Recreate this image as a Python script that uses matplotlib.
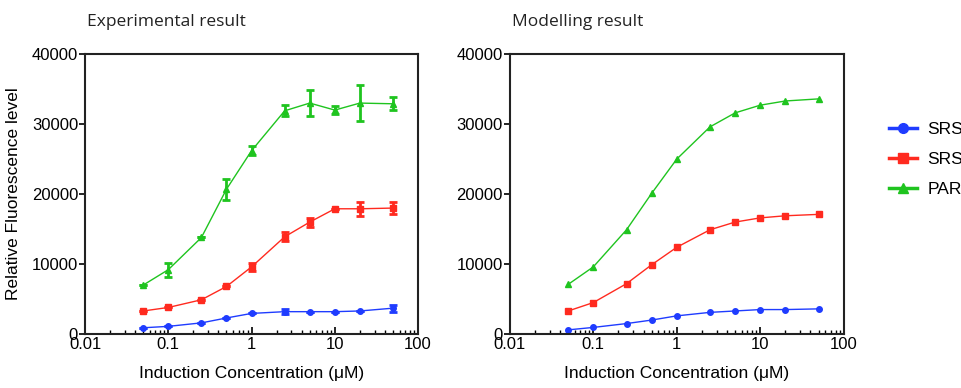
import numpy as np
import matplotlib
matplotlib.use('Agg')
import matplotlib.pyplot as plt
from matplotlib.ticker import LogLocator, NullFormatter, FixedLocator

# induction concentrations (uM)
conc = [0.05, 0.1, 0.25, 0.5, 1, 2.5, 5, 10, 20, 50]

# experimental result
exp_blue = [900, 1100, 1600, 2300, 2950, 3200, 3200, 3200, 3300, 3700]
exp_blue_err = [0, 0, 0, 0, 0, 400, 0, 0, 0, 500]
exp_red = [3300, 3800, 4900, 6800, 9600, 13900, 16000, 17900, 17900, 18000]
exp_red_err = [0, 0, 0, 0, 550, 650, 650, 0, 1000, 800]
exp_green = [7000, 9200, 13800, 20700, 26200, 31900, 33000, 32000, 33000, 32900]
exp_green_err = [0, 1000, 0, 1500, 650, 800, 1800, 600, 2600, 900]

# modelling result
mod_blue = [600, 950, 1500, 2000, 2600, 3100, 3300, 3500, 3500, 3600]
mod_red = [3300, 4500, 7200, 9900, 12400, 14900, 16000, 16600, 16900, 17100]
mod_green = [7100, 9600, 14900, 20100, 25000, 29600, 31600, 32700, 33300, 33600]

labels = ['SRS', 'SRS', 'PAR']
colors = ['#1f3cff', '#ff2a1f', '#1fc41f']
markers = ['o', 's', '^']

plt.rcParams['font.family'] = ['Liberation Sans', 'DejaVu Sans']

fig = plt.figure(figsize=(9.62, 3.88), dpi=100)
ax1 = fig.add_axes([0.0884, 0.139, 0.3462, 0.7216])
ax2 = fig.add_axes([0.530, 0.139, 0.347, 0.7216])


def style_axes(ax, title):
    ax.set_xscale('log')
    ax.set_xlim(0.01, 100)
    ax.set_ylim(0, 40000)
    ax.yaxis.set_major_locator(FixedLocator([0, 10000, 20000, 30000, 40000]))
    ax.xaxis.set_major_locator(LogLocator(base=10))
    ax.xaxis.set_minor_locator(LogLocator(base=10, subs=np.arange(2, 10)))
    ax.xaxis.set_minor_formatter(NullFormatter())
    ax.set_xticks([0.01, 0.1, 1, 10, 100])
    ax.set_xticklabels(['0.01', '0.1', '1', '10', '100'])
    for s in ax.spines.values():
        s.set_linewidth(1.5)
        s.set_color('#222222')
    ax.tick_params(axis='x', which='major', direction='in', length=5, width=1.2,
                   labelsize=12, pad=2)
    ax.tick_params(axis='x', which='minor', direction='in', length=3, width=1.0)
    ax.tick_params(axis='y', direction='out', length=4, width=1.2, labelsize=12, pad=1)
    ax.set_xlabel('Induction Concentration (\u03bcM)', fontsize=12.5, labelpad=10)
    ax.text(0.005, 1.1, title, transform=ax.transAxes, fontsize=12.5,
            family='Open Sans', color='#222222')


style_axes(ax1, 'Experimental result')
style_axes(ax2, 'Modelling result')
ax1.set_ylabel('Relative Fluorescence level', fontsize=12.5, labelpad=8)

exp_vals = [(exp_blue, exp_blue_err), (exp_red, exp_red_err), (exp_green, exp_green_err)]
for (vals, err), c, m in zip(exp_vals, colors, markers):
    ax1.errorbar(conc, vals, yerr=err, color=c, marker=m, markersize=4,
                 linewidth=1, elinewidth=2, capsize=3, capthick=2)

for vals, c, m in zip([mod_blue, mod_red, mod_green], colors, markers):
    ax2.plot(conc, vals, color=c, marker=m, markersize=4, linewidth=1)

leg_handles = [plt.Line2D([], [], color=c, marker=m, markersize=7, linewidth=2.5)
               for c, m in zip(colors, markers)]
fig.legend(leg_handles, labels, loc='upper left', bbox_to_anchor=(0.908, 0.725),
           frameon=False, fontsize=12.5, handlelength=1.6, labelspacing=0.85,
           handletextpad=0.6)

fig.savefig('out.png', dpi=100)
